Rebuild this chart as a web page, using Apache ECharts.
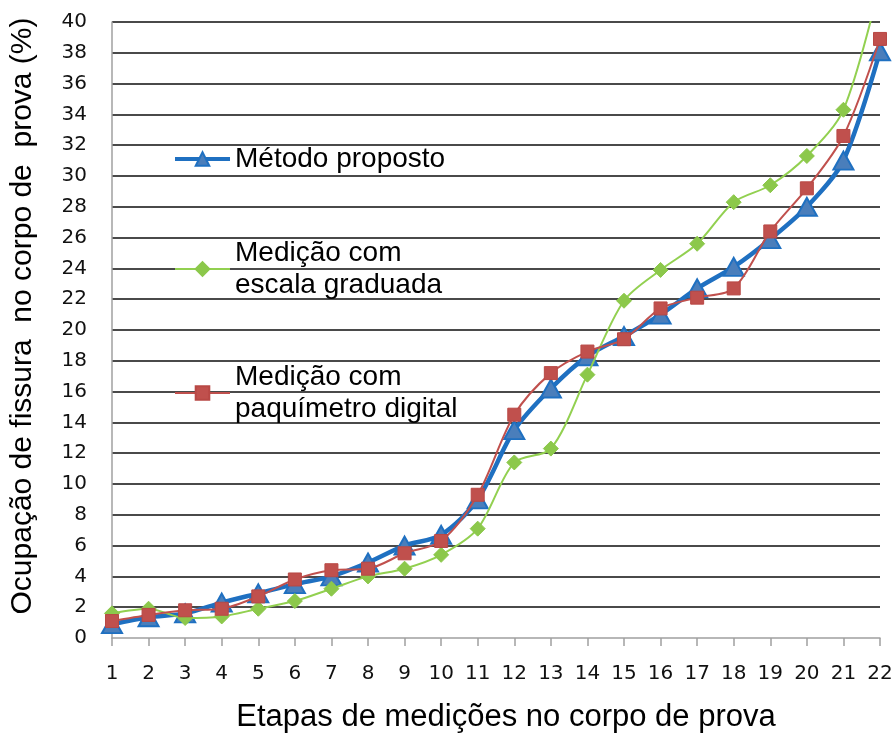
<!DOCTYPE html>
<html>
<head>
<meta charset="utf-8">
<script src="https://cdn.jsdelivr.net/npm/echarts@6/dist/echarts.min.js"></script>
<style>
  html, body { margin: 0; padding: 0; background: #fff; }
  #chart { width: 896px; height: 738px; }
</style>
</head>
<body>
<div id="chart"></div>
<script>
// etapas de medição
const etapas = ['1', '2', '3', '4', '5', '6', '7', '8', '9', '10', '11',
  '12', '13', '14', '15', '16', '17', '18', '19', '20', '21', '22']

const nomes = ['Método proposto', 'Medição com\nescala graduada', 'Medição com\npaquímetro digital']

// ocupação de fissura (%)
const metodoProposto = [0.9, 1.35, 1.6, 2.3, 2.9, 3.5, 4.0, 4.9, 6.0, 6.7, 9.0,
  13.5, 16.2, 18.3, 19.6, 21.0, 22.7, 24.1, 25.9, 28.0, 31.0, 38.1]
const escalaGraduada = [1.6, 1.9, 1.3, 1.4, 1.9, 2.4, 3.2, 4.0, 4.5, 5.4, 7.1,
  11.4, 12.3, 17.1, 21.9, 23.9, 25.6, 28.3, 29.4, 31.3, 34.3, 42.5]
const paquimetro = [1.1, 1.5, 1.8, 1.9, 2.7, 3.8, 4.4, 4.5, 5.5, 6.3, 9.3,
  14.5, 17.2, 18.6, 19.4, 21.4, 22.1, 22.7, 26.4, 29.2, 32.6, 38.9]

const chart = echarts.init(document.getElementById('chart'))

const tickFont = { fontFamily: 'DejaVu Sans', fontSize: 20, color: '#111' }
const twoLines = { padding: [0, 0, -32, 0] } // ícone alinhado com a 1a linha

const option = {
  backgroundColor: '#fff',
  animation: false,
  grid: { left: 112, right: 16, top: 22, bottom: 93, containLabel: false },
  legend: {
    orient: 'vertical',
    left: 173,
    top: 143,
    padding: 0,
    itemGap: 64,
    itemWidth: 55,
    itemHeight: 17,
    selectedMode: false,
    textStyle: { fontFamily: 'Liberation Sans', fontSize: 28, lineHeight: 32, color: '#000' },
    data: [
      { name: nomes[0], lineStyle: { width: 4 } },
      { name: nomes[1], textStyle: twoLines },
      { name: nomes[2], textStyle: twoLines }
    ]
  },
  xAxis: {
    type: 'category',
    data: etapas,
    boundaryGap: false,
    name: 'Etapas de medições no corpo de prova',
    nameLocation: 'middle',
    nameGap: 64,
    nameTextStyle: { fontFamily: 'Liberation Sans', fontSize: 31, color: '#000', padding: [0, 0, 0, 20] },
    axisLine: { lineStyle: { color: '#a0a0a0', width: 1.5 } },
    axisTick: { show: true, length: 8, alignWithLabel: true, lineStyle: { color: '#a0a0a0', width: 1.5 } },
    axisLabel: Object.assign({ interval: 0, margin: 26 }, tickFont),
    splitLine: { show: false }
  },
  yAxis: {
    type: 'value',
    min: 0,
    max: 40,
    interval: 2,
    name: 'Ocupação de fissura  no corpo de  prova (%)',
    nameLocation: 'middle',
    nameGap: 74,
    nameTextStyle: { fontFamily: 'Liberation Sans', fontSize: 30, color: '#000', padding: [0, 0, 0, 28] },
    axisLine: { show: true, lineStyle: { color: '#a0a0a0', width: 1.5 } },
    axisTick: { show: false },
    axisLabel: Object.assign({ margin: 25 }, tickFont),
    splitLine: { show: true, showMinLine: false, lineStyle: { color: '#4a4a4a', width: 2 } }
  },
  series: [
    {
      name: nomes[0],
      type: 'line',
      data: metodoProposto,
      smooth: 0.3,
      clip: true,
      symbol: 'triangle',
      symbolSize: [20, 18],
      lineStyle: { color: '#1F70C1', width: 4.5 },
      itemStyle: { color: '#4A7EBB', borderColor: '#1F70C1', borderWidth: 2 },
      z: 2
    },
    {
      name: nomes[1],
      type: 'line',
      data: escalaGraduada,
      smooth: 0.3,
      clip: true,
      symbol: 'diamond',
      symbolSize: 15,
      lineStyle: { color: '#92D050', width: 2 },
      itemStyle: { color: '#8CC84B', borderColor: '#8CC84B', borderWidth: 1 },
      z: 3
    },
    {
      name: nomes[2],
      type: 'line',
      data: paquimetro,
      smooth: 0.3,
      clip: true,
      symbol: 'rect',
      symbolSize: 13,
      lineStyle: { color: '#C0504D', width: 2 },
      itemStyle: { color: '#C0504D', borderColor: '#B84845', borderWidth: 1 },
      z: 4
    }
  ]
}

chart.setOption(option)
</script>
</body>
</html>
